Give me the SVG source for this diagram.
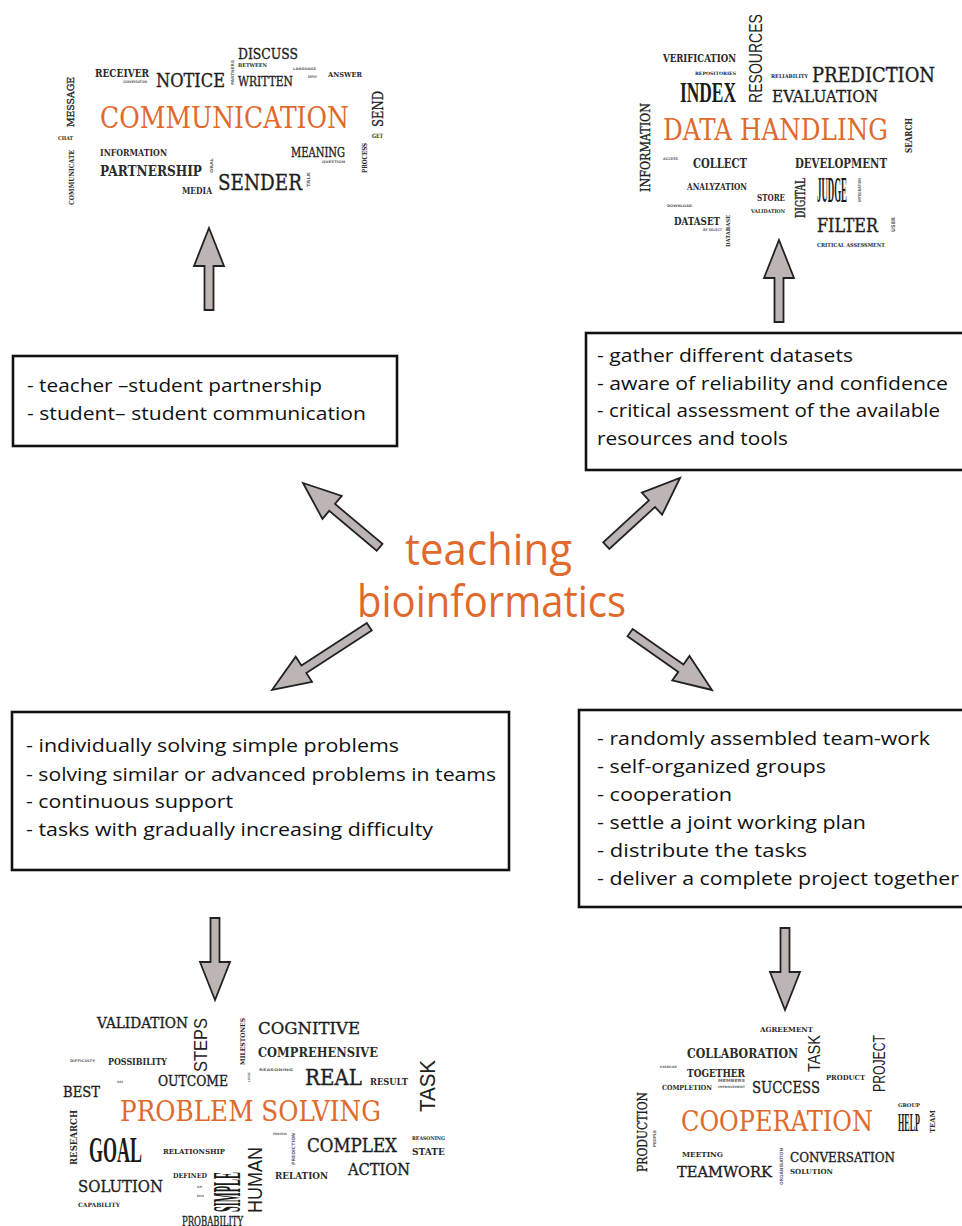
<svg xmlns="http://www.w3.org/2000/svg" xmlns:xlink="http://www.w3.org/1999/xlink" width="962" height="1226" viewBox="0 0 962 1226">
<style>
.w{font-family:"DejaVu Serif","Liberation Serif",serif;fill:#1e1e1e;stroke:#1e1e1e;stroke-width:0.35}
.b{font-weight:bold;fill:#2a2a2a;stroke:none}
.t{fill:#666;font-weight:bold;font-family:"DejaVu Sans",sans-serif}
.c{font-family:"Liberation Serif",serif;font-weight:bold;fill:#1a1a1a}
.s{font-family:"Liberation Sans",Arial,sans-serif;fill:#222}
.o{font-family:"DejaVu Serif","Liberation Serif",serif;fill:#e0692c}
.bx{fill:#fff;stroke:#111;stroke-width:2.6}
.bt{font-family:"Open Sans","Noto Sans",sans-serif;font-size:19px;fill:#111}
.ctr{font-family:"Open Sans","Noto Sans",sans-serif;font-size:44px;fill:#e0692c}
.ar{fill:#bcb5b3;stroke:#222;stroke-width:1.8;stroke-linejoin:miter}
</style>
<defs>
<path id="arrS" d="M0,0 L15,38 L4.5,38 L4.5,82 L-4.5,82 L-4.5,38 L-15,38 Z"/>
<path id="arrM" d="M0,0 L15,38 L4.5,38 L4.5,100 L-4.5,100 L-4.5,38 L-15,38 Z"/>
<path id="arrL" d="M0,0 L15,38 L4.5,38 L4.5,116 L-4.5,116 L-4.5,38 L-15,38 Z"/>
</defs>
<rect width="962" height="1226" fill="#fff"/>

<g id="connectors">
<use xlink:href="#arrS" class="ar" transform="translate(209,228)"/>
<use xlink:href="#arrS" class="ar" transform="translate(779,240)"/>
<use xlink:href="#arrM" class="ar" transform="translate(303,483) rotate(-50)"/>
<use xlink:href="#arrM" class="ar" transform="translate(680,478) rotate(47.5)"/>
<use xlink:href="#arrL" class="ar" transform="translate(272,690) rotate(-123)"/>
<use xlink:href="#arrM" class="ar" transform="translate(712,690) rotate(125)"/>
<use xlink:href="#arrS" class="ar" transform="translate(215,1000) rotate(180)"/>
<use xlink:href="#arrS" class="ar" transform="translate(785,1010) rotate(180)"/>
</g>

<g id="center">
<text class="ctr" x="405" y="565" textLength="167" lengthAdjust="spacingAndGlyphs">teaching</text>
<text class="ctr" x="357" y="617" textLength="269" lengthAdjust="spacingAndGlyphs">bioinformatics</text>
</g>

<g id="box-communication">
<rect class="bx" x="13" y="356" width="384" height="90"/>
<text class="bt" x="27" y="392" textLength="295" lengthAdjust="spacingAndGlyphs">- teacher –student partnership</text>
<text class="bt" x="27" y="420" textLength="339" lengthAdjust="spacingAndGlyphs">- student– student communication</text>
</g>

<g id="box-data">
<rect class="bx" x="586" y="333" width="380" height="137"/>
<text class="bt" x="597" y="362" textLength="256" lengthAdjust="spacingAndGlyphs">- gather different datasets</text>
<text class="bt" x="597" y="390" textLength="351" lengthAdjust="spacingAndGlyphs">- aware of reliability and confidence</text>
<text class="bt" x="597" y="417" textLength="343" lengthAdjust="spacingAndGlyphs">- critical assessment of the available</text>
<text class="bt" x="597" y="445" textLength="191" lengthAdjust="spacingAndGlyphs">resources and tools</text>
</g>

<g id="box-problem">
<rect class="bx" x="12" y="712" width="497" height="158"/>
<text class="bt" x="26" y="752" textLength="373" lengthAdjust="spacingAndGlyphs">- individually solving simple problems</text>
<text class="bt" x="26" y="781" textLength="470" lengthAdjust="spacingAndGlyphs">- solving similar or advanced problems in teams</text>
<text class="bt" x="26" y="808" textLength="207" lengthAdjust="spacingAndGlyphs">- continuous support</text>
<text class="bt" x="26" y="836" textLength="407" lengthAdjust="spacingAndGlyphs">- tasks with gradually increasing difficulty</text>
</g>

<g id="box-cooperation">
<rect class="bx" x="579" y="710" width="387" height="197"/>
<text class="bt" x="597" y="745" textLength="333" lengthAdjust="spacingAndGlyphs">- randomly assembled team-work</text>
<text class="bt" x="597" y="773" textLength="229" lengthAdjust="spacingAndGlyphs">- self-organized groups</text>
<text class="bt" x="597" y="801" textLength="135" lengthAdjust="spacingAndGlyphs">- cooperation</text>
<text class="bt" x="597" y="829" textLength="269" lengthAdjust="spacingAndGlyphs">- settle a joint working plan</text>
<text class="bt" x="597" y="857" textLength="210" lengthAdjust="spacingAndGlyphs">- distribute the tasks</text>
<text class="bt" x="597" y="885" textLength="362" lengthAdjust="spacingAndGlyphs">- deliver a complete project together</text>
</g>

<g id="cloud-communication">
<text class="w b" font-size="11" x="95" y="77" textLength="54" lengthAdjust="spacingAndGlyphs">RECEIVER</text>
<text class="t" font-size="3.5" x="123" y="83" textLength="24" lengthAdjust="spacingAndGlyphs">CONVERSATION</text>
<text class="w" font-size="19" x="156" y="87" textLength="69" lengthAdjust="spacingAndGlyphs">NOTICE</text>
<text class="o" font-size="29" x="100" y="128" textLength="249" lengthAdjust="spacingAndGlyphs">COMMUNICATION</text>
<text class="w b" font-size="10" x="100" y="156" textLength="67" lengthAdjust="spacingAndGlyphs">INFORMATION</text>
<text class="w b" font-size="15" x="100" y="176" textLength="102" lengthAdjust="spacingAndGlyphs">PARTNERSHIP</text>
<text class="t" font-size="4" transform="translate(213,173) rotate(-90)" textLength="15" lengthAdjust="spacingAndGlyphs">ORAL</text>
<text class="w b" font-size="9" x="182" y="194" textLength="30" lengthAdjust="spacingAndGlyphs">MEDIA</text>
<text class="w" font-size="23" x="218" y="190" textLength="84" lengthAdjust="spacingAndGlyphs">SENDER</text>
<text class="t" font-size="4.5" transform="translate(310,187) rotate(-90)" textLength="15" lengthAdjust="spacingAndGlyphs">TALK</text>
<text class="w" font-size="15" x="238" y="59" textLength="60" lengthAdjust="spacingAndGlyphs">DISCUSS</text>
<text class="w b" font-size="5" x="238" y="67" textLength="29" lengthAdjust="spacingAndGlyphs">BETWEEN</text>
<text class="t" font-size="4" transform="translate(234,85) rotate(-90)" textLength="25" lengthAdjust="spacingAndGlyphs">PARTNERS</text>
<text class="w" font-size="13" x="238" y="86" textLength="55" lengthAdjust="spacingAndGlyphs">WRITTEN</text>
<text class="t" font-size="3.5" x="293" y="70" textLength="23" lengthAdjust="spacingAndGlyphs">LANGUAGE</text>
<text class="t" font-size="3.5" x="308" y="78" textLength="9" lengthAdjust="spacingAndGlyphs">REPLY</text>
<text class="w b" font-size="8" x="328" y="77" textLength="34" lengthAdjust="spacingAndGlyphs">ANSWER</text>
<text class="w" font-size="15" transform="translate(383,127) rotate(-90)" textLength="36" lengthAdjust="spacingAndGlyphs">SEND</text>
<text class="w b" font-size="6" x="372" y="138" textLength="11" lengthAdjust="spacingAndGlyphs">GET</text>
<text class="w" font-size="12" x="291" y="157" textLength="54" lengthAdjust="spacingAndGlyphs">MEANING</text>
<text class="t" font-size="3.5" x="322" y="163" textLength="23" lengthAdjust="spacingAndGlyphs">QUESTION</text>
<text class="w b" font-size="7" transform="translate(367,173) rotate(-90)" textLength="30" lengthAdjust="spacingAndGlyphs">PROCESS</text>
<text class="w" font-size="10" transform="translate(74,127) rotate(-90)" textLength="50" lengthAdjust="spacingAndGlyphs">MESSAGE</text>
<text class="w b" font-size="5" x="58" y="140" textLength="15" lengthAdjust="spacingAndGlyphs">CHAT</text>
<text class="w b" font-size="7" transform="translate(74,205) rotate(-90)" textLength="55" lengthAdjust="spacingAndGlyphs">COMMUNICATE</text>
</g>

<g id="cloud-data-handling">
<text class="s" font-size="18" transform="translate(762,103) rotate(-90)" textLength="89" lengthAdjust="spacingAndGlyphs">RESOURCES</text>
<text class="w b" font-size="11" x="663" y="62" textLength="73" lengthAdjust="spacingAndGlyphs">VERIFICATION</text>
<text class="w b" font-size="4.5" x="695" y="75" textLength="41" lengthAdjust="spacingAndGlyphs">REPOSITORIES</text>
<text class="c" font-size="29" x="680" y="102" textLength="56" lengthAdjust="spacingAndGlyphs">INDEX</text>
<text class="w b" font-size="5" x="771" y="78" textLength="37" lengthAdjust="spacingAndGlyphs">RELIABILITY</text>
<text class="w" font-size="20" x="812" y="82" textLength="123" lengthAdjust="spacingAndGlyphs">PREDICTION</text>
<text class="w" font-size="16.5" x="772" y="102" textLength="106" lengthAdjust="spacingAndGlyphs">EVALUATION</text>
<text class="o" font-size="29" x="663" y="140" textLength="225" lengthAdjust="spacingAndGlyphs">DATA HANDLING</text>
<text class="w" font-size="13" transform="translate(650,192) rotate(-90)" textLength="89" lengthAdjust="spacingAndGlyphs">INFORMATION</text>
<text class="t" font-size="3.5" x="663" y="160" textLength="15" lengthAdjust="spacingAndGlyphs">ACCESS</text>
<text class="w b" font-size="12" x="693" y="168" textLength="54" lengthAdjust="spacingAndGlyphs">COLLECT</text>
<text class="w b" font-size="9" x="687" y="190" textLength="60" lengthAdjust="spacingAndGlyphs">ANALYZATION</text>
<text class="w b" font-size="9" x="757" y="201" textLength="28" lengthAdjust="spacingAndGlyphs">STORE</text>
<text class="w b" font-size="5" x="751" y="213" textLength="34" lengthAdjust="spacingAndGlyphs">VALIDATION</text>
<text class="t" font-size="3.5" x="667" y="207" textLength="25" lengthAdjust="spacingAndGlyphs">DOWNLOAD</text>
<text class="w b" font-size="11" x="674" y="225" textLength="46" lengthAdjust="spacingAndGlyphs">DATASET</text>
<text class="t" font-size="3.5" x="703" y="231" textLength="19" lengthAdjust="spacingAndGlyphs">BY SELECT</text>
<text class="w b" font-size="5.5" transform="translate(730,247) rotate(-90)" textLength="32" lengthAdjust="spacingAndGlyphs">DATABASE</text>
<text class="w b" font-size="8.5" transform="translate(912,153) rotate(-90)" textLength="35" lengthAdjust="spacingAndGlyphs">SEARCH</text>
<text class="w b" font-size="12" x="795" y="168" textLength="92" lengthAdjust="spacingAndGlyphs">DEVELOPMENT</text>
<text class="w" font-size="12" transform="translate(805,218) rotate(-90)" textLength="40" lengthAdjust="spacingAndGlyphs">DIGITAL</text>
<text class="c" font-size="36" x="817" y="202" textLength="30" lengthAdjust="spacingAndGlyphs">JUDGE</text>
<text class="t" font-size="4" transform="translate(861,202) rotate(-90)" textLength="24" lengthAdjust="spacingAndGlyphs">INTEGRATION</text>
<text class="w" font-size="19" x="817" y="232" textLength="61" lengthAdjust="spacingAndGlyphs">FILTER</text>
<text class="t" font-size="5" transform="translate(895,232) rotate(-90)" textLength="15" lengthAdjust="spacingAndGlyphs">USER</text>
<text class="w b" font-size="5.5" x="817" y="247" textLength="68" lengthAdjust="spacingAndGlyphs">CRITICAL ASSESSMENT</text>
</g>

<g id="cloud-problem-solving">
<text class="w" font-size="14" x="97" y="1028" textLength="91" lengthAdjust="spacingAndGlyphs">VALIDATION</text>
<text class="s" font-size="19" transform="translate(207,1072) rotate(-90)" textLength="54" lengthAdjust="spacingAndGlyphs">STEPS</text>
<text class="w b" font-size="6.5" transform="translate(245,1065) rotate(-90)" textLength="47" lengthAdjust="spacingAndGlyphs">MILESTONES</text>
<text class="t" font-size="3.5" x="70" y="1062" textLength="25" lengthAdjust="spacingAndGlyphs">DIFFICULTY</text>
<text class="w b" font-size="10" x="108" y="1065" textLength="59" lengthAdjust="spacingAndGlyphs">POSSIBILITY</text>
<text class="t" font-size="3" x="117" y="1083" textLength="6" lengthAdjust="spacingAndGlyphs">IDEA</text>
<text class="w" font-size="14" x="158" y="1086" textLength="70" lengthAdjust="spacingAndGlyphs">OUTCOME</text>
<text class="t" font-size="3" transform="translate(250,1082) rotate(-90)" textLength="10" lengthAdjust="spacingAndGlyphs">LOGIC</text>
<text class="w" font-size="15" x="63" y="1097" textLength="37" lengthAdjust="spacingAndGlyphs">BEST</text>
<text class="o" font-size="28" x="120" y="1121" textLength="261" lengthAdjust="spacingAndGlyphs">PROBLEM SOLVING</text>
<text class="w b" font-size="9" transform="translate(77,1165) rotate(-90)" textLength="55" lengthAdjust="spacingAndGlyphs">RESEARCH</text>
<text class="c" font-size="36" x="89" y="1162" textLength="53" lengthAdjust="spacingAndGlyphs">GOAL</text>
<text class="w b" font-size="8" x="163" y="1154" textLength="62" lengthAdjust="spacingAndGlyphs">RELATIONSHIP</text>
<text class="w b" font-size="7" x="173" y="1178" textLength="34" lengthAdjust="spacingAndGlyphs">DEFINED</text>
<text class="t" font-size="3" x="197" y="1188" textLength="5" lengthAdjust="spacingAndGlyphs">AIM</text>
<text class="t" font-size="3" x="197" y="1197" textLength="7" lengthAdjust="spacingAndGlyphs">BASIS</text>
<text class="w" font-size="17" x="78" y="1192" textLength="85" lengthAdjust="spacingAndGlyphs">SOLUTION</text>
<text class="w b" font-size="6" x="78" y="1207" textLength="42" lengthAdjust="spacingAndGlyphs">CAPABILITY</text>
<text class="c" font-size="40" transform="translate(240,1212) rotate(-90)" textLength="40" lengthAdjust="spacingAndGlyphs">SIMPLE</text>
<text class="s" font-size="21" transform="translate(262,1213) rotate(-90)" textLength="66" lengthAdjust="spacingAndGlyphs">HUMAN</text>
<text class="w" font-size="12" x="182" y="1226" textLength="61" lengthAdjust="spacingAndGlyphs">PROBABILITY</text>
<text class="w" font-size="17" x="258" y="1034" textLength="102" lengthAdjust="spacingAndGlyphs">COGNITIVE</text>
<text class="w b" font-size="12" x="258" y="1057" textLength="120" lengthAdjust="spacingAndGlyphs">COMPREHENSIVE</text>
<text class="t" font-size="3.5" x="259" y="1071" textLength="34" lengthAdjust="spacingAndGlyphs">REASONING</text>
<text class="w" font-size="23" x="305" y="1085" textLength="57" lengthAdjust="spacingAndGlyphs">REAL</text>
<text class="w b" font-size="10" x="370" y="1085" textLength="38" lengthAdjust="spacingAndGlyphs">RESULT</text>
<text class="s" font-size="22" transform="translate(435,1112) rotate(-90)" textLength="52" lengthAdjust="spacingAndGlyphs">TASK</text>
<text class="t" font-size="3" x="273" y="1135" textLength="14" lengthAdjust="spacingAndGlyphs">PROCESS</text>
<text class="t" font-size="4.5" transform="translate(295,1165) rotate(-90)" textLength="32" lengthAdjust="spacingAndGlyphs">PREDICTION</text>
<text class="w" font-size="19" x="307" y="1152" textLength="90" lengthAdjust="spacingAndGlyphs">COMPLEX</text>
<text class="w b" font-size="5" x="412" y="1140" textLength="33" lengthAdjust="spacingAndGlyphs">REASONING</text>
<text class="w b" font-size="10" x="412" y="1155" textLength="33" lengthAdjust="spacingAndGlyphs">STATE</text>
<text class="w b" font-size="9" x="275" y="1179" textLength="53" lengthAdjust="spacingAndGlyphs">RELATION</text>
<text class="w" font-size="16" x="348" y="1175" textLength="62" lengthAdjust="spacingAndGlyphs">ACTION</text>
</g>

<g id="cloud-cooperation">
<text class="w b" font-size="7" x="760" y="1032" textLength="53" lengthAdjust="spacingAndGlyphs">AGREEMENT</text>
<text class="w b" font-size="12" x="687" y="1058" textLength="111" lengthAdjust="spacingAndGlyphs">COLLABORATION</text>
<text class="s" font-size="16" transform="translate(820,1072) rotate(-90)" textLength="37" lengthAdjust="spacingAndGlyphs">TASK</text>
<text class="t" font-size="3" x="660" y="1068" textLength="17" lengthAdjust="spacingAndGlyphs">EXERCISE</text>
<text class="w b" font-size="11" x="687" y="1077" textLength="58" lengthAdjust="spacingAndGlyphs">TOGETHER</text>
<text class="w b" font-size="7" x="662" y="1090" textLength="50" lengthAdjust="spacingAndGlyphs">COMPLETION</text>
<text class="t" font-size="4" x="718" y="1082" textLength="27" lengthAdjust="spacingAndGlyphs">MEMBERS</text>
<text class="t" font-size="3" x="718" y="1088" textLength="27" lengthAdjust="spacingAndGlyphs">IMPROVEMENT</text>
<text class="w" font-size="17" x="752" y="1093" textLength="68" lengthAdjust="spacingAndGlyphs">SUCCESS</text>
<text class="w b" font-size="7" x="826" y="1080" textLength="39" lengthAdjust="spacingAndGlyphs">PRODUCT</text>
<text class="s" font-size="16" transform="translate(885,1092) rotate(-90)" textLength="57" lengthAdjust="spacingAndGlyphs">PROJECT</text>
<text class="w" font-size="13" transform="translate(647,1172) rotate(-90)" textLength="80" lengthAdjust="spacingAndGlyphs">PRODUCTION</text>
<text class="t" font-size="4" transform="translate(656,1147) rotate(-90)" textLength="17" lengthAdjust="spacingAndGlyphs">PEOPLE</text>
<text class="o" font-size="28" x="681" y="1131" textLength="192" lengthAdjust="spacingAndGlyphs">COOPERATION</text>
<text class="w b" font-size="5" x="898" y="1107" textLength="22" lengthAdjust="spacingAndGlyphs">GROUP</text>
<text class="c" font-size="25" x="898" y="1131" textLength="22" lengthAdjust="spacingAndGlyphs">HELP</text>
<text class="w b" font-size="7" transform="translate(935,1133) rotate(-90)" textLength="23" lengthAdjust="spacingAndGlyphs">TEAM</text>
<text class="w b" font-size="8" x="682" y="1157" textLength="41" lengthAdjust="spacingAndGlyphs">MEETING</text>
<text class="w" font-size="15" x="677" y="1177" textLength="95" lengthAdjust="spacingAndGlyphs">TEAMWORK</text>
<text class="t" font-size="4.5" transform="translate(783,1185) rotate(-90)" textLength="37" lengthAdjust="spacingAndGlyphs">ORGANISATION</text>
<text class="w" font-size="13" x="790" y="1162" textLength="105" lengthAdjust="spacingAndGlyphs">CONVERSATION</text>
<text class="w b" font-size="7" x="790" y="1174" textLength="43" lengthAdjust="spacingAndGlyphs">SOLUTION</text>
</g>
</svg>
